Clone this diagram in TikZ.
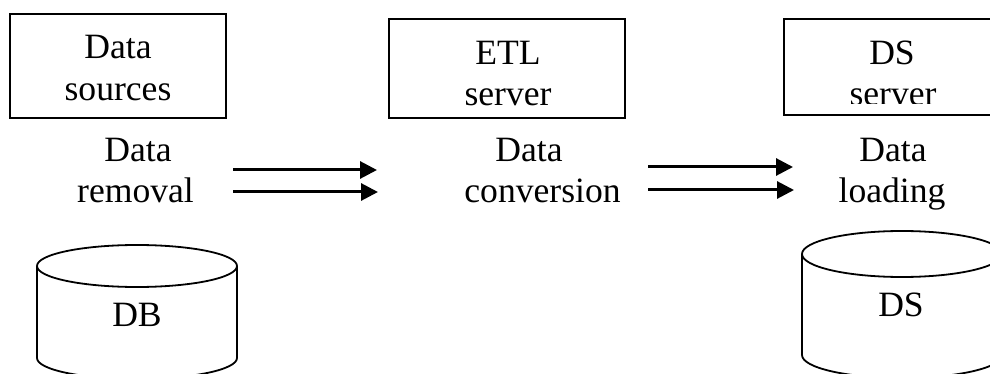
\documentclass[tikz,border=0pt]{standalone}
\usepackage{fontspec}
\setmainfont{Liberation Serif}
\usetikzlibrary{arrows.meta}
\tikzset{
  lbl/.style={anchor=base,inner sep=0pt,outer sep=0pt,font=\fontsize{35.6}{42}\selectfont},
  boxr/.style={draw=black,line width=2.2pt,fill=white,inner sep=0pt,outer sep=0pt,minimum width=#1},
  cyl/.style={draw=black,line width=1.8pt},
  flow/.style={draw=black,line width=3pt,-{Triangle[length=17pt,width=17pt]},shorten >=0pt}
}
\begin{document}
\begin{tikzpicture}[x=1pt,y=-1pt]
\useasboundingbox (0,0) rectangle (990,374);
\fill[white] (0,0) rectangle (990,374);
\begin{scope}
\clip (0,0) rectangle (990,373);
% boxes
\node[boxr=216pt,minimum height=104pt,anchor=north west] (srcbox) at (10,14) {};
\node[boxr=236pt,minimum height=99pt,anchor=north west] (etlbox) at (389,19) {};
\node[boxr=240pt,minimum height=96pt,anchor=north west] (dsbox) at (784,19) {};
% cylinders
\draw[cyl,fill=white] (37,266) -- (37,358) arc[start angle=180,end angle=0,x radius=100,y radius=21] -- (237,266);
\draw[cyl,fill=white] (37,266) arc[start angle=180,end angle=-180,x radius=100,y radius=21];
\draw[cyl,fill=white] (802,254) -- (802,355) arc[start angle=180,end angle=0,x radius=100,y radius=23] -- (1002,254);
\draw[cyl,fill=white] (802,254) arc[start angle=180,end angle=-180,x radius=100,y radius=23];
\end{scope}
% labels
\node[lbl] (t1) at (118,59) {Data};
\node[lbl] (t2) at (118,101) {sources};
\node[lbl] (t3) at (138,162) {Data};
\node[lbl] (t4) at (135.5,203) {removal};
\node[lbl] (t5) at (137,326) {DB};
\node[lbl] (t6) at (508,65) {ETL};
\node[lbl] (t7) at (508,106) {server};
\node[lbl] (t8) at (529,162) {Data};
\node[lbl] (t9) at (542.5,203) {conversion};
\node[lbl] (t10) at (892,65) {DS};
\begin{scope}
\clip (784,70) rectangle (990,104);
\node[lbl] (t11) at (893,105.5) {server};
\end{scope}
\node[lbl] (t12) at (893,162) {Data};
\node[lbl] (t13) at (892,203) {loading};
\node[lbl] (t14) at (901,316) {DS};
% arrows
\coordinate (a1s) at (233,170); \coordinate (a1e) at (377,170);
\coordinate (a2s) at (233,192); \coordinate (a2e) at (378,192);
\coordinate (a3s) at (648,167); \coordinate (a3e) at (793,167);
\coordinate (a4s) at (648,190); \coordinate (a4e) at (794,190);
\draw[flow] (a1s) -- (a1e);
\draw[flow] (a2s) -- (a2e);
\draw[flow] (a3s) -- (a3e);
\draw[flow] (a4s) -- (a4e);
\end{tikzpicture}
\end{document}
